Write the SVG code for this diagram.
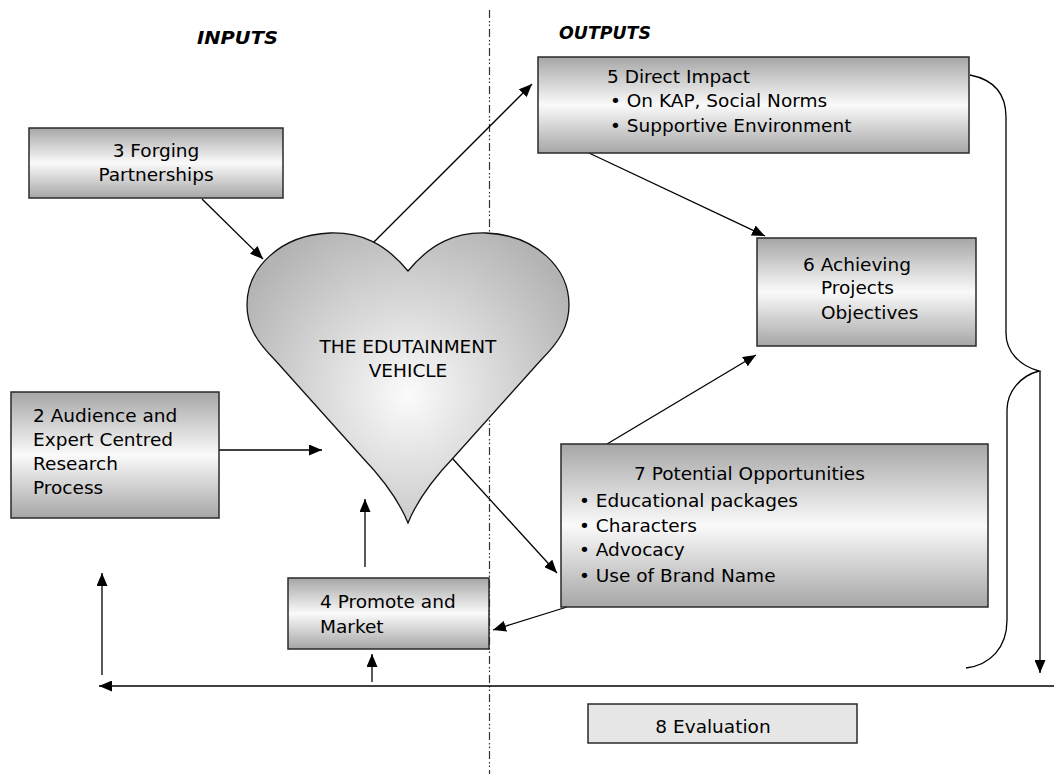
<svg xmlns="http://www.w3.org/2000/svg" width="1054" height="774" viewBox="0 0 1054 774">
<style>
.box{fill:url(#boxg);stroke:#2a2a2a;stroke-width:1.5}
.t{font-family:"DejaVu Sans","Liberation Sans",sans-serif;font-size:18.5px;fill:#000}
.h{font-family:"DejaVu Sans","Liberation Sans",sans-serif;font-size:17px;font-weight:bold;font-style:italic;fill:#000}
.c{stroke:#000;stroke-width:1.3;fill:none}
.ar{marker-end:url(#arr)}
</style>
<defs>
<linearGradient id="boxg" x1="0" y1="0" x2="0" y2="1">
<stop offset="0" stop-color="#a6a6a6"/>
<stop offset="0.5" stop-color="#fafafa"/>
<stop offset="1" stop-color="#a6a6a6"/>
</linearGradient>
<radialGradient id="heartg" cx="408" cy="395" r="190" gradientUnits="userSpaceOnUse">
<stop offset="0" stop-color="#fbfbfb"/>
<stop offset="1" stop-color="#b3b3b3"/>
</radialGradient>
<marker id="arr" markerUnits="userSpaceOnUse" markerWidth="13" markerHeight="11" refX="13" refY="5.5" orient="auto">
<path d="M0,0 L13,5.5 L0,11 z" fill="#000"/>
</marker>
</defs>

<line x1="489.5" y1="10" x2="489.5" y2="774" stroke="#333" stroke-width="1.2" stroke-dasharray="8 3 1.5 2 1.5 3"/>
<text class="h" x="197" y="44" textLength="81" lengthAdjust="spacingAndGlyphs">INPUTS</text>
<text class="h" x="559" y="39" textLength="92" lengthAdjust="spacingAndGlyphs">OUTPUTS</text>

<g id="connectors">
<line class="c ar" x1="202" y1="199" x2="263" y2="259"/>
<line class="c ar" x1="219" y1="450" x2="322" y2="450"/>
<line class="c ar" x1="365" y1="567" x2="365" y2="499"/>
<line class="c ar" x1="373" y1="243" x2="532" y2="84"/>
<line class="c ar" x1="589" y1="153" x2="765" y2="236"/>
<line class="c ar" x1="607" y1="444" x2="756" y2="355"/>
<line class="c ar" x1="452" y1="458" x2="557" y2="573"/>
<line class="c ar" x1="567" y1="607" x2="493" y2="630"/>
<line class="c ar" x1="372" y1="682" x2="372" y2="654"/>
<line class="c ar" x1="102" y1="675" x2="102" y2="573"/>
<line class="c ar" x1="1054" y1="686" x2="99" y2="686"/>
<line class="c ar" x1="1040" y1="371" x2="1040" y2="673"/>
<path class="c" d="M 970 75 C 995 80, 1006 95, 1006 117 L 1006 333 C 1006 352, 1020 366, 1039 371 C 1020 376, 1007 392, 1007 410 L 1007 620 C 1007 648, 990 665, 966 668"/>
</g>

<g id="heart">
<path d="M 408 271 C 385 243, 360 232, 330 233 C 280 235, 247 268, 247 305 C 247 325, 255 340, 275 360 L 362 457 C 385 481, 400 503, 408 523 C 416 503, 431 481, 454 457 L 541 360 C 561 340, 569 325, 569 305 C 569 268, 536 235, 486 233 C 456 232, 431 243, 408 271 Z" fill="url(#heartg)" stroke="#111" stroke-width="1.3"/>
<text class="t" x="408" y="353" text-anchor="middle" font-size="18">THE EDUTAINMENT</text>
<text class="t" x="408" y="377" text-anchor="middle" font-size="18">VEHICLE</text>
</g>

<g id="n3">
<rect class="box" x="29" y="128" width="254" height="70"/>
<text class="t" x="156" y="157" text-anchor="middle">3 Forging</text>
<text class="t" x="156" y="181" text-anchor="middle">Partnerships</text>
</g>

<g id="n2">
<rect class="box" x="11" y="392" width="208" height="126"/>
<text class="t" x="33" y="422">2 Audience and</text>
<text class="t" x="33" y="446">Expert Centred</text>
<text class="t" x="33" y="470">Research</text>
<text class="t" x="33" y="494">Process</text>
</g>

<g id="n4">
<rect class="box" x="288" y="578" width="201" height="71"/>
<text class="t" x="320" y="608">4 Promote and</text>
<text class="t" x="320" y="633">Market</text>
</g>

<g id="n5">
<rect class="box" x="538" y="57" width="431" height="96"/>
<text class="t" x="607" y="83">5 Direct Impact</text>
<text class="t" x="610" y="107">• On KAP, Social Norms</text>
<text class="t" x="610" y="132">• Supportive Environment</text>
</g>

<g id="n6">
<rect class="box" x="757" y="238" width="219" height="108"/>
<text class="t" x="803" y="271">6 Achieving</text>
<text class="t" x="821" y="294">Projects</text>
<text class="t" x="821" y="319">Objectives</text>
</g>

<g id="n7">
<rect class="box" x="561" y="444" width="427" height="163"/>
<text class="t" x="634" y="480">7 Potential Opportunities</text>
<text class="t" x="579" y="507">• Educational packages</text>
<text class="t" x="579" y="532">• Characters</text>
<text class="t" x="579" y="556">• Advocacy</text>
<text class="t" x="579" y="582">• Use of Brand Name</text>
</g>

<g id="n8">
<rect x="588" y="704" width="269" height="39" fill="#e6e6e6" stroke="#2a2a2a" stroke-width="1.5"/>
<text class="t" x="713" y="733" text-anchor="middle">8 Evaluation</text>
</g>
</svg>
